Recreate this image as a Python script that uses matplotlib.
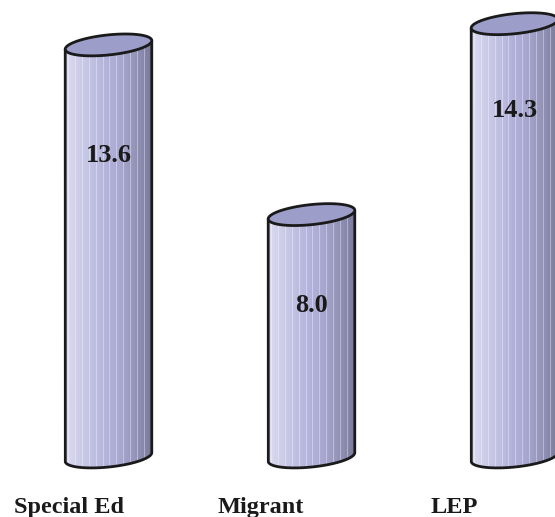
import numpy as np
import matplotlib
matplotlib.use('Agg')
import matplotlib.pyplot as plt
from matplotlib.patches import Polygon

# values per group
groups = ['Special Ed', 'Migrant', 'LEP']
values = [13.6, 8.0, 14.3]

# canvas scale: pixels per data unit
W, H = 555, 517
PX_X = 203.0     # px per category step
PX_Y = 30.3      # px per value unit
X0_PX = 108.5    # first cylinder centre, px from left
Y0_PX = 60.0     # value 0, px from bottom

# cylinder geometry (px)
RX, RY, TILT = 43.5, 10.0, np.deg2rad(6.0)

# text placement tweaks (px / value units)
label_dx = [-39.5, -50.5, -60.5]
label_base = -56.0
value_dy = [-3.86, -3.23, -3.08]

fig = plt.figure(figsize=(W / 100, H / 100), dpi=100)
ax = fig.add_axes([0, 0, 1, 1])
ax.set_axis_off()


def ellipse(xc, yc, n=400):
    t = np.linspace(0, 2 * np.pi, n)
    dx = RX * np.cos(t) * np.cos(TILT) - RY * np.sin(t) * np.sin(TILT)
    dy = RX * np.cos(t) * np.sin(TILT) + RY * np.sin(t) * np.cos(TILT)
    return xc + dx / PX_X, yc + dy / PX_Y


# body texture: left-to-right shading with thin light stripes
ncol = 88
u = np.linspace(0, 1, ncol)
c_left = np.array([218, 218, 240]) / 255
c_mid = np.array([176, 176, 218]) / 255
c_right = np.array([122, 122, 155]) / 255
cols = np.where(u[:, None] < 0.5,
                c_left + (c_mid - c_left) * (u[:, None] / 0.5),
                c_mid + (c_right - c_mid) * ((u[:, None] - 0.5) / 0.5) ** 1.4)
stripe = np.zeros(ncol, bool)
stripe[3::7] = True
cols[stripe] = cols[stripe] * 0.65 + 0.35
tex = np.tile(cols[None, :, :], (4, 1, 1))

EDGE = '#1a1a1a'
LW = 2.0

for i, v in enumerate(values):
    ex_b, ey_b = ellipse(i, 0.0)
    ex_t, ey_t = ellipse(i, v)

    # lower arc of the base ellipse between its left and right extremes
    il, ir = np.argmin(ex_b), np.argmax(ex_b)
    t_idx = np.arange(len(ex_b))
    lo = t_idx[(t_idx >= min(il, ir)) & (t_idx <= max(il, ir))]
    if ey_b[lo].min() > ey_b.min():
        lo = np.concatenate([t_idx[t_idx >= max(il, ir)], t_idx[t_idx <= min(il, ir)]])
    arc_x, arc_y = ex_b[lo], ey_b[lo]
    if arc_x[0] > arc_x[-1]:
        arc_x, arc_y = arc_x[::-1], arc_y[::-1]

    jl, jr = np.argmin(ex_t), np.argmax(ex_t)
    ox = np.concatenate([[ex_t[jl]], arc_x, [ex_t[jr]]])
    oy = np.concatenate([[ey_t[jl]], arc_y, [ey_t[jr]]])
    poly = Polygon(np.column_stack([ox, oy]), closed=True,
                   facecolor='none', edgecolor='none')
    ax.add_patch(poly)
    im = ax.imshow(tex, extent=(ex_b.min(), ex_b.max(), ey_b.min(), v + 1),
                   aspect='auto', interpolation='nearest', zorder=1)
    im.set_clip_path(poly)

    # side walls + front arc as one stroke, then the lid
    ax.plot(ox, oy, color=EDGE, lw=LW, zorder=3,
            solid_joinstyle='round', solid_capstyle='round')
    ax.fill(ex_t, ey_t, facecolor='#9d9dca', edgecolor=EDGE, lw=LW, zorder=4)

    ax.text(i, v + value_dy[i], f'{v:.1f}', ha='center', va='baseline',
            fontsize=19, fontweight='bold', family='Liberation Serif',
            color='#1a1a1a', zorder=5)
    ax.text(i + label_dx[i] / PX_X, label_base / PX_Y, groups[i], ha='center',
            va='baseline', fontsize=17.5, fontweight='bold',
            family='Liberation Serif', color='#1a1a1a', zorder=5)

ax.set_xlim(-X0_PX / PX_X, (W - X0_PX) / PX_X)
ax.set_ylim(-Y0_PX / PX_Y, (H - Y0_PX) / PX_Y)

fig.savefig('out.png', dpi=100, facecolor='white')
